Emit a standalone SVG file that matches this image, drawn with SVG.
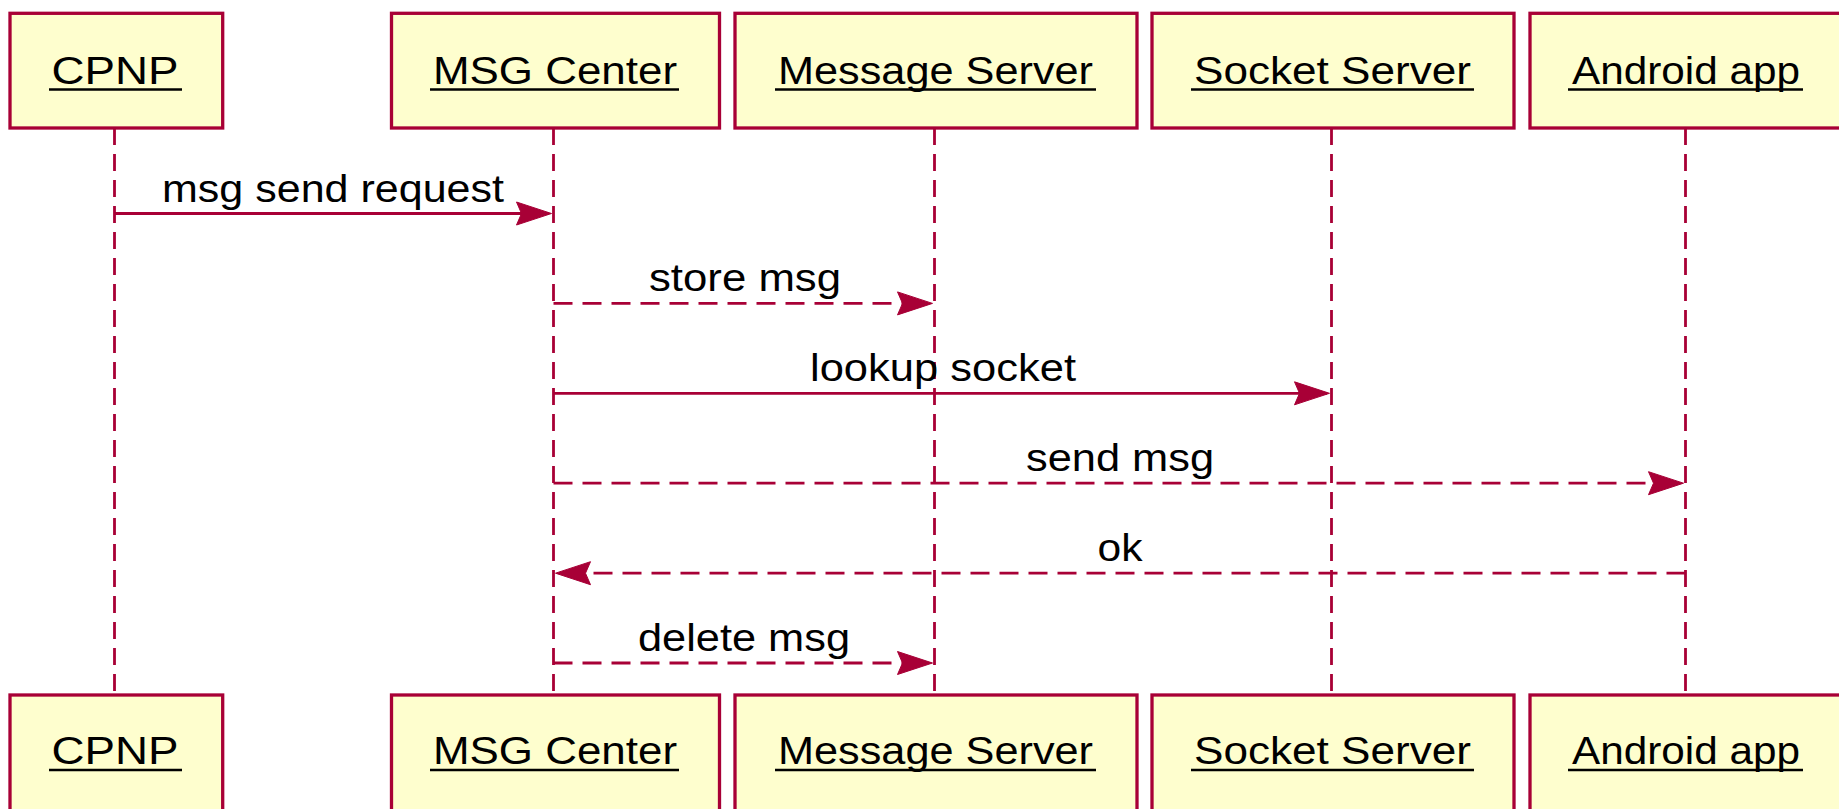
<svg xmlns="http://www.w3.org/2000/svg" width="1839" height="809" viewBox="0 0 1839 809">
<style>
.box{fill:#FEFECE;stroke:#A80036;stroke-width:3.3}
.life{stroke:#A80036;stroke-width:2.8;stroke-dasharray:17,9;fill:none}
.name{font-family:"Liberation Sans",Arial,sans-serif;font-size:38px;fill:#000;text-anchor:middle}
.ul{stroke:#000;stroke-width:2.6}
.msg{stroke:#A80036;stroke-width:2.8;fill:none}
.dash{stroke-dasharray:19,10}
.head{fill:#A80036;stroke:#A80036;stroke-width:1}
.lbl{font-family:"Liberation Sans",Arial,sans-serif;font-size:38px;fill:#000;text-anchor:middle}
</style>
<rect width="1839" height="809" fill="#fff"/>
<g id="cpnp">
<line class="life" x1="114.5" y1="128" x2="114.5" y2="695"/>
<rect class="box" x="10" y="13.3" width="212.7" height="114.7"/>
<text class="name" x="115" y="83.5" textLength="127" lengthAdjust="spacingAndGlyphs">CPNP</text>
<line class="ul" x1="49" y1="89.5" x2="182" y2="89.5"/>
<rect class="box" x="10" y="695" width="212.7" height="116"/>
<text class="name" x="115" y="764" textLength="127" lengthAdjust="spacingAndGlyphs">CPNP</text>
<line class="ul" x1="49" y1="770" x2="182" y2="770"/>
</g>
<g id="msgcenter">
<line class="life" x1="553.5" y1="128" x2="553.5" y2="695"/>
<rect class="box" x="391.5" y="13.3" width="328" height="114.7"/>
<text class="name" x="555" y="83.5" textLength="244" lengthAdjust="spacingAndGlyphs">MSG Center</text>
<line class="ul" x1="430" y1="89.5" x2="679" y2="89.5"/>
<rect class="box" x="391.5" y="695" width="328" height="116"/>
<text class="name" x="555" y="764" textLength="244" lengthAdjust="spacingAndGlyphs">MSG Center</text>
<line class="ul" x1="430" y1="770" x2="679" y2="770"/>
</g>
<g id="messageserver">
<line class="life" x1="934.5" y1="128" x2="934.5" y2="695"/>
<rect class="box" x="735" y="13.3" width="402" height="114.7"/>
<text class="name" x="935.5" y="83.5" textLength="315" lengthAdjust="spacingAndGlyphs">Message Server</text>
<line class="ul" x1="775" y1="89.5" x2="1096" y2="89.5"/>
<rect class="box" x="735" y="695" width="402" height="116"/>
<text class="name" x="935.5" y="764" textLength="315" lengthAdjust="spacingAndGlyphs">Message Server</text>
<line class="ul" x1="775" y1="770" x2="1096" y2="770"/>
</g>
<g id="socketserver">
<line class="life" x1="1331.5" y1="128" x2="1331.5" y2="695"/>
<rect class="box" x="1152" y="13.3" width="362" height="114.7"/>
<text class="name" x="1332.5" y="83.5" textLength="277" lengthAdjust="spacingAndGlyphs">Socket Server</text>
<line class="ul" x1="1191" y1="89.5" x2="1474" y2="89.5"/>
<rect class="box" x="1152" y="695" width="362" height="116"/>
<text class="name" x="1332.5" y="764" textLength="277" lengthAdjust="spacingAndGlyphs">Socket Server</text>
<line class="ul" x1="1191" y1="770" x2="1474" y2="770"/>
</g>
<g id="androidapp">
<line class="life" x1="1685.5" y1="128" x2="1685.5" y2="695"/>
<rect class="box" x="1530" y="13.3" width="312" height="114.7"/>
<text class="name" x="1686" y="83.5" textLength="228" lengthAdjust="spacingAndGlyphs">Android app</text>
<line class="ul" x1="1568" y1="89.5" x2="1803" y2="89.5"/>
<rect class="box" x="1530" y="695" width="312" height="116"/>
<text class="name" x="1686" y="764" textLength="228" lengthAdjust="spacingAndGlyphs">Android app</text>
<line class="ul" x1="1568" y1="770" x2="1803" y2="770"/>
</g>
<g id="connectors">
<line class="msg" x1="114.5" y1="213.5" x2="549" y2="213.5"/>
<polygon class="head" points="551.5,213.5 516.5,202 521.5,213.5 516.5,225"/>
<text class="lbl" x="333" y="201.5" textLength="342" lengthAdjust="spacingAndGlyphs">msg send request</text>

<line class="msg dash" x1="553.5" y1="303.4" x2="930" y2="303.4"/>
<polygon class="head" points="932.5,303.4 897.5,291.9 902.5,303.4 897.5,314.9"/>
<text class="lbl" x="745" y="291.4" textLength="192" lengthAdjust="spacingAndGlyphs">store msg</text>

<line class="msg" x1="553.5" y1="393.3" x2="1327" y2="393.3"/>
<polygon class="head" points="1329.5,393.3 1294.5,381.8 1299.5,393.3 1294.5,404.8"/>
<text class="lbl" x="943" y="381.3" textLength="266" lengthAdjust="spacingAndGlyphs">lookup socket</text>

<line class="msg dash" x1="553.5" y1="483.2" x2="1681" y2="483.2"/>
<polygon class="head" points="1683.5,483.2 1648.5,471.7 1653.5,483.2 1648.5,494.7"/>
<text class="lbl" x="1120" y="471.2" textLength="188" lengthAdjust="spacingAndGlyphs">send msg</text>

<line class="msg dash" x1="1685.5" y1="573.2" x2="558" y2="573.2"/>
<polygon class="head" points="555.5,573.2 590.5,561.7 585.5,573.2 590.5,584.7"/>
<text class="lbl" x="1120" y="561.2" textLength="45" lengthAdjust="spacingAndGlyphs">ok</text>

<line class="msg dash" x1="553.5" y1="663" x2="930" y2="663"/>
<polygon class="head" points="932.5,663 897.5,651.5 902.5,663 897.5,674.5"/>
<text class="lbl" x="744" y="651" textLength="212" lengthAdjust="spacingAndGlyphs">delete msg</text>
</g>
</svg>
